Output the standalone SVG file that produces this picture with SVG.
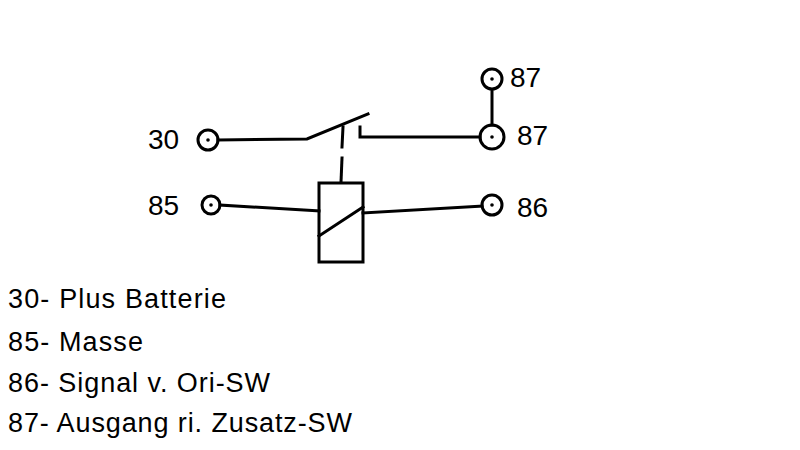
<svg xmlns="http://www.w3.org/2000/svg" width="800" height="450" viewBox="0 0 800 450">
<style>
.w{stroke:#000;stroke-width:3;fill:none;stroke-linecap:square}
.t{font-family:"Liberation Sans",Arial,sans-serif;font-size:27px;fill:#000}
.n{font-family:"Liberation Sans",Arial,sans-serif;font-size:28px;fill:#000}
.d{fill:#000}
</style>
<rect width="800" height="450" fill="#fff"/>
<g id="connectors">
<polyline class="w" points="218,140 307,139 368,114"/>
<polyline class="w" points="360,127 360,137 480,137"/>
<line class="w" x1="343" y1="127" x2="342" y2="147"/>
<line class="w" x1="342" y1="158" x2="341" y2="182"/>
<line class="w" x1="492" y1="90" x2="492" y2="125"/>
<line class="w" x1="220" y1="205" x2="319" y2="211"/>
<line class="w" x1="363" y1="213" x2="482" y2="206"/>
</g>
<g id="relay">
<rect class="w" x="319" y="183" width="44" height="79"/>
<line class="w" x1="319" y1="236" x2="363" y2="207"/>
</g>
<g id="t30"><circle class="w" cx="208" cy="140" r="10"/><circle class="d" cx="208" cy="140" r="1.8"/><text class="n" x="148" y="149">30</text></g>
<g id="t87a"><circle class="w" cx="492" cy="79" r="10"/><circle class="d" cx="492" cy="79" r="1.8"/><text class="n" x="510" y="87">87</text></g>
<g id="t87b"><circle class="w" cx="492" cy="137" r="12"/><circle class="d" cx="492" cy="137" r="1.8"/><text class="n" x="517" y="145">87</text></g>
<g id="t85"><circle class="w" cx="211" cy="205" r="9"/><circle class="d" cx="211" cy="205" r="1.8"/><text class="n" x="148" y="215">85</text></g>
<g id="t86"><circle class="w" cx="492" cy="205" r="10"/><circle class="d" cx="492" cy="205" r="1.8"/><text class="n" x="517" y="217">86</text></g>
<g id="legend">
<text class="t" x="8" y="308" textLength="218">30- Plus Batterie</text>
<text class="t" x="8" y="351" textLength="135">85- Masse</text>
<text class="t" x="8" y="392" textLength="262">86- Signal v. Ori-SW</text>
<text class="t" x="8" y="432" textLength="344">87- Ausgang ri. Zusatz-SW</text>
</g>
</svg>
